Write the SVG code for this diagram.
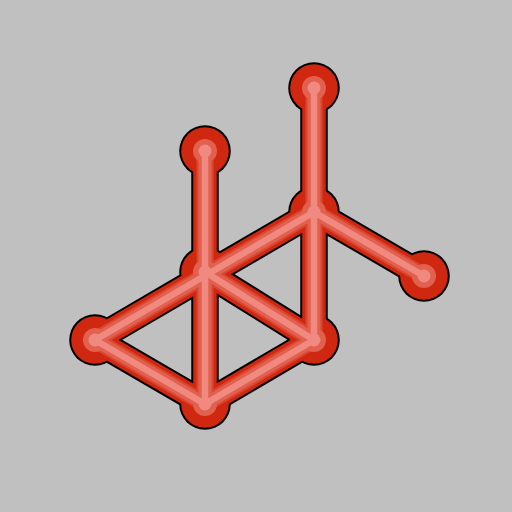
<svg xmlns="http://www.w3.org/2000/svg" width="512" height="512" viewBox="0 0 512 512">
<style>
.o{stroke:#000;stroke-width:27.5;stroke-linecap:round;fill:none}
.r{stroke:#d02810;stroke-width:23.5;stroke-linecap:round;fill:none}
.m2{stroke:#d94632;stroke-width:17;stroke-linecap:round;fill:none}
.m{stroke:#e2604e;stroke-width:13;stroke-linecap:round;fill:none}
.l{stroke:#f08a80;stroke-width:6.5;stroke-linecap:round;fill:none}
.co{fill:#000}
.cr{fill:#d02810}
.cm{fill:#e2604e}
.cl{fill:#f08a80}
</style>
<defs>
<path id="E" d="M205 151V404M314 88V340M95 340L314 212M314 212L424 276M95 340L205 404L314 340M205 272L314 340"/>
</defs>
<rect width="512" height="512" fill="#c0c0c0"/>
<g id="connectors-outline">
<use href="#E" class="o"/>
</g>
<g id="nodes-outline" class="co">
<circle cx="314" cy="88" r="25.8"/><circle cx="205" cy="151" r="25.8"/><circle cx="314" cy="212" r="25.8"/><circle cx="205" cy="272" r="25.8"/><circle cx="424" cy="276" r="25.8"/><circle cx="95" cy="340" r="25.8"/><circle cx="314" cy="340" r="25.8"/><circle cx="205" cy="404" r="25.8"/>
</g>
<g id="nodes-fill" class="cr">
<circle cx="314" cy="88" r="23.8"/><circle cx="205" cy="151" r="23.8"/><circle cx="314" cy="212" r="23.8"/><circle cx="205" cy="272" r="23.8"/><circle cx="424" cy="276" r="23.8"/><circle cx="95" cy="340" r="23.8"/><circle cx="314" cy="340" r="23.8"/><circle cx="205" cy="404" r="23.8"/>
</g>
<g id="connectors">
<use href="#E" class="r"/>
<use href="#E" class="m2"/>
<use href="#E" class="m"/>
</g>
<g id="nodes-inner" class="cm">
<circle cx="314" cy="88" r="12"/><circle cx="205" cy="151" r="12"/><circle cx="314" cy="212" r="12"/><circle cx="205" cy="272" r="12"/><circle cx="424" cy="276" r="12"/><circle cx="95" cy="340" r="12"/><circle cx="314" cy="340" r="12"/><circle cx="205" cy="404" r="12"/>
</g>
<g id="connectors-center">
<use href="#E" class="l"/>
</g>
<g id="nodes-center" class="cl">
<circle cx="314" cy="88" r="6.5"/><circle cx="205" cy="151" r="6.5"/><circle cx="314" cy="212" r="6.5"/><circle cx="205" cy="272" r="6.5"/><circle cx="424" cy="276" r="6.5"/><circle cx="95" cy="340" r="6.5"/><circle cx="314" cy="340" r="6.5"/><circle cx="205" cy="404" r="6.5"/>
</g>
</svg>
